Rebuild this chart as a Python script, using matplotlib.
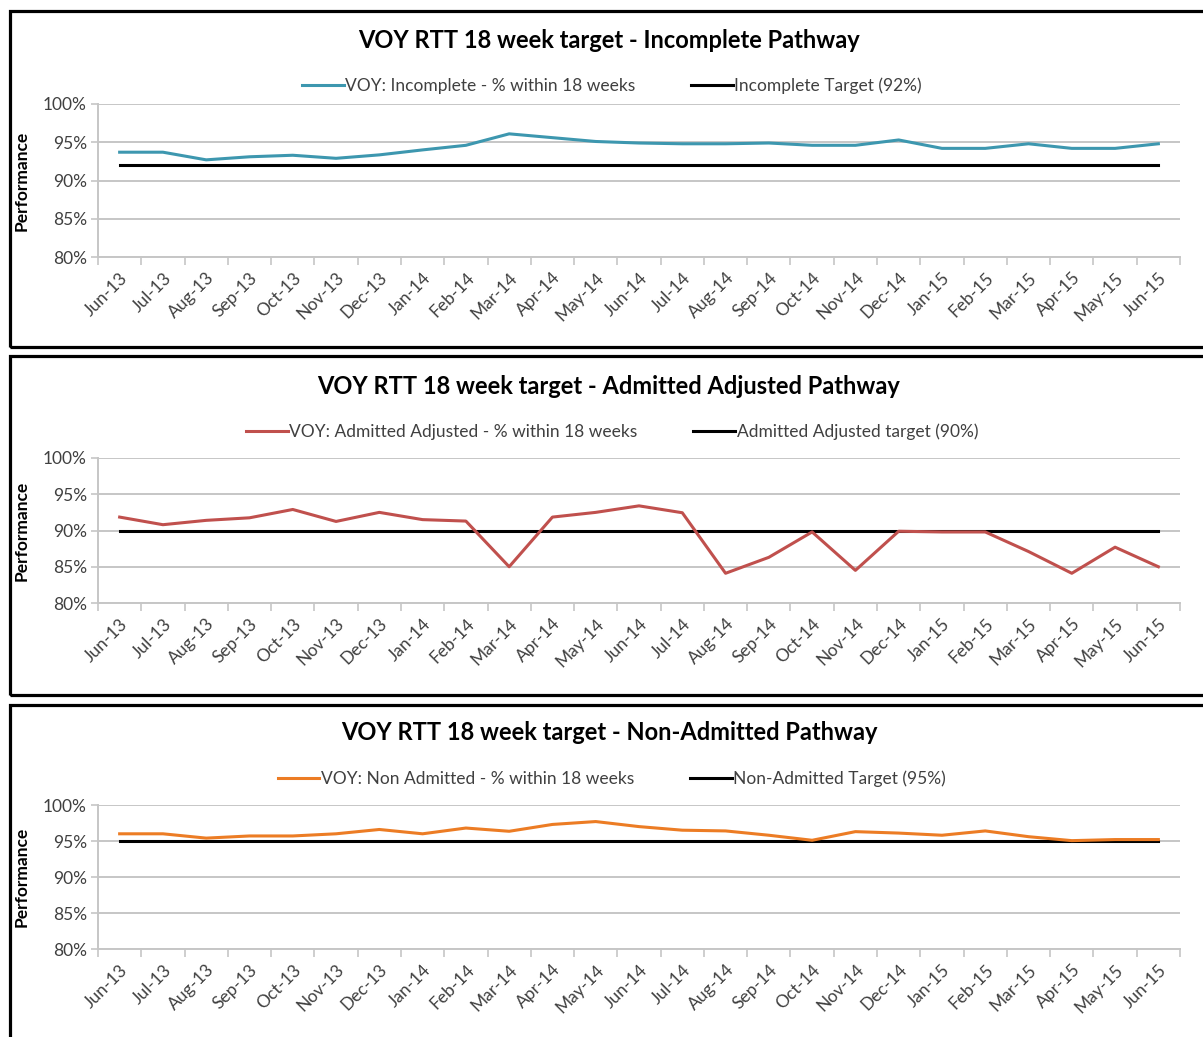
import matplotlib
matplotlib.use("Agg")
import matplotlib.pyplot as plt
from matplotlib.patches import Rectangle
import numpy as np

plt.rcParams['font.family'] = ['Lato', 'DejaVu Sans']

months = ['Jun-13', 'Jul-13', 'Aug-13', 'Sep-13', 'Oct-13', 'Nov-13', 'Dec-13',
          'Jan-14', 'Feb-14', 'Mar-14', 'Apr-14', 'May-14', 'Jun-14', 'Jul-14',
          'Aug-14', 'Sep-14', 'Oct-14', 'Nov-14', 'Dec-14', 'Jan-15', 'Feb-15',
          'Mar-15', 'Apr-15', 'May-15', 'Jun-15']

incomplete = [93.7, 93.7, 92.7, 93.1, 93.3, 92.9, 93.35, 94.0, 94.6, 96.1, 95.6, 95.1,
              94.9, 94.8, 94.8, 94.9, 94.6, 94.6, 95.3, 94.2, 94.2, 94.8, 94.2, 94.2, 94.8]
incomplete_target = 92

admitted = [91.85, 90.8, 91.4, 91.75, 92.9, 91.25, 92.5, 91.5, 91.3, 85.0, 91.85, 92.5,
            93.4, 92.45, 84.1, 86.3, 89.8, 84.5, 89.9, 89.8, 89.8, 87.1, 84.1, 87.7, 85.0]
admitted_target = 90

non_admitted = [96.0, 96.0, 95.4, 95.7, 95.7, 96.0, 96.6, 96.0, 96.8, 96.35, 97.3, 97.7,
                97.0, 96.5, 96.4, 95.8, 95.1, 96.3, 96.1, 95.8, 96.4, 95.6, 95.05, 95.2, 95.2]
non_admitted_target = 95

panels = [
    ('VOY RTT 18 week target - Incomplete Pathway', incomplete, incomplete_target,
     'VOY: Incomplete - % within 18 weeks', 'Incomplete Target (92%)', '#3D97AF'),
    ('VOY RTT 18 week target - Admitted Adjusted Pathway', admitted, admitted_target,
     'VOY: Admitted Adjusted - % within 18 weeks', 'Admitted Adjusted target (90%)', '#C0504D'),
    ('VOY RTT 18 week target - Non-Admitted Pathway', non_admitted, non_admitted_target,
     'VOY: Non Admitted - % within 18 weeks', 'Non-Admitted Target (95%)', '#EC7C24'),
]

W, H = 1203, 1037
fig = plt.figure(figsize=(W / 100, H / 100), dpi=100)

def fx(px):
    return px / W

def fy(py):
    return 1 - py / H

# pixel layout: (axes top, axes bottom, title y, legend y, box top, box bottom)
layout = [(104, 257, 41, 86, 10.5, 346.5),
          (458, 603, 387, 432, 356.5, 694.5),
          (805, 949, 733, 779, 704.5, 1050)]

x = np.arange(len(months))
grid_col = '#C6C6C6'
txt_col = '#404040'

for (title, vals, target, lab1, lab2, col), (top, bot, ty, ly, bt, bb) in zip(panels, layout):
    fig.add_artist(Rectangle((fx(9.5), fy(bb)), fx(1220), fy(bt) - fy(bb),
                             transform=fig.transFigure, fill=False, lw=2.3,
                             edgecolor='black', zorder=0))
    ax = fig.add_axes([fx(98), fy(bot), fx(1180 - 98), fy(top) - fy(bot)])
    l1, = ax.plot(x, vals, color=col, lw=2.2, zorder=3)
    l2, = ax.plot(x, [target] * len(x), color='black', lw=2.2, zorder=2)
    ax.set_xlim(-0.5, len(x) - 0.5)
    ax.set_ylim(80, 100)
    ax.set_yticks([80, 85, 90, 95, 100])
    ax.set_yticklabels(['80%', '85%', '90%', '95%', '100%'], fontsize=12.5, color=txt_col)
    ax.yaxis.grid(True, color=grid_col, lw=1.4)
    ax.set_axisbelow(True)
    ax.set_xticks(x)
    ax.set_xticklabels(months, rotation=45, ha='right', rotation_mode='anchor',
                       fontsize=12.5, color=txt_col)
    ax.set_xticks(np.arange(-0.5, len(x)), minor=True)
    ax.tick_params(axis='x', which='major', length=0, pad=9)
    ax.tick_params(axis='x', which='minor', length=6, color=grid_col, width=1.2)
    ax.tick_params(axis='y', length=5, color=grid_col, width=1.2, pad=3)
    for s in ['top', 'right']:
        ax.spines[s].set_visible(False)
    for s in ['left', 'bottom']:
        ax.spines[s].set_color(grid_col)
        ax.spines[s].set_linewidth(1.4)
    ax.set_ylabel('Performance', fontsize=12.5, fontweight='bold', color='black')
    ax.yaxis.set_label_coords(-0.063, 0.5)
    fig.text(fx(609), fy(ty), title, ha='center', va='center', fontsize=17,
             fontweight='bold', color='black')
    fig.legend([l1, l2], [lab1, lab2], loc='center', bbox_to_anchor=(fx(612), fy(ly)),
               ncol=2, frameon=False, fontsize=12.5, handlelength=2.4, handletextpad=0.1,
               columnspacing=3.2, labelcolor=txt_col)

fig.savefig('out.png', dpi=100, facecolor='white')
